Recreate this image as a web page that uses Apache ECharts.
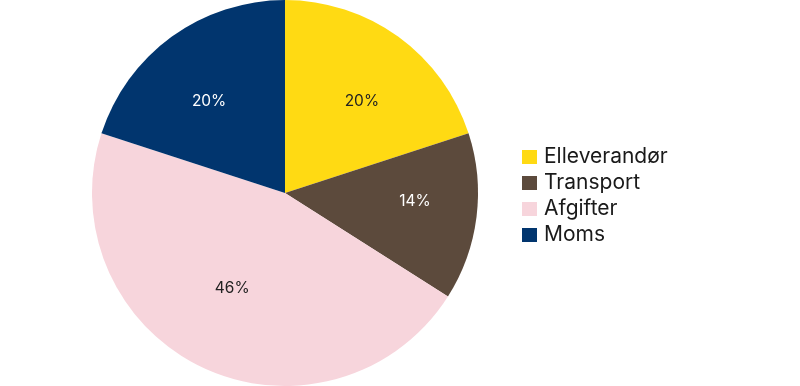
<!DOCTYPE html>
<html>
<head>
<meta charset="utf-8">
<script src="https://cdn.jsdelivr.net/npm/echarts@6/dist/echarts.min.js"></script>
<style>html,body{margin:0;padding:0;background:#fff}#c{width:800px;height:386px}</style>
</head>
<body>
<div id="c"></div>
<script>
const categories = ['Elleverandør', 'Transport', 'Afgifter', 'Moms'];
const values = [20, 14, 46, 20];

const colors = ['#FFDA13', '#5C4A3C', '#F7D5DC', '#01356E'];
const labelColors = ['#222222', '#ffffff', '#222222', '#ffffff'];
const labelNudge = [[4, 9], [7, -7], [0, -17], [-3, 9]];

const font = 'Inter, "Noto Sans", sans-serif';
const data = categories.map((n, i) => ({ name: n, value: values[i], itemStyle: { color: colors[i] } }));
const labelData = categories.map((n, i) => ({ name: n, value: values[i], label: { color: labelColors[i], offset: labelNudge[i] } }));

const chart = echarts.init(document.getElementById('c'), null, { renderer: 'canvas' });
chart.setOption({
  animation: false,
  legend: {
    orient: 'vertical',
    left: 517,
    top: 141,
    padding: 5,
    itemWidth: 15,
    itemHeight: 14,
    itemGap: 4,
    icon: 'rect',
    data: categories,
    textStyle: { fontFamily: font, fontSize: 21, color: '#1a1a1a', lineHeight: 22, padding: [0, 0, 0, 2] }
  },
  series: [
    {
      type: 'pie',
      center: [285, 193],
      radius: [0, 193],
      startAngle: 90,
      clockwise: true,
      silent: true,
      label: { show: false },
      labelLine: { show: false },
      itemStyle: { borderWidth: 0 },
      data: data
    },
    {
      type: 'pie',
      center: [285, 193],
      radius: [50, 192],
      startAngle: 90,
      clockwise: true,
      silent: true,
      legendHoverLink: false,
      itemStyle: { color: 'rgba(0,0,0,0)', borderWidth: 0 },
      label: {
        show: true,
        position: 'inside',
        formatter: p => p.value + '%',
        fontFamily: font,
        fontSize: 15.5
      },
      labelLine: { show: false },
      data: labelData
    }
  ]
});
</script>
</body>
</html>
